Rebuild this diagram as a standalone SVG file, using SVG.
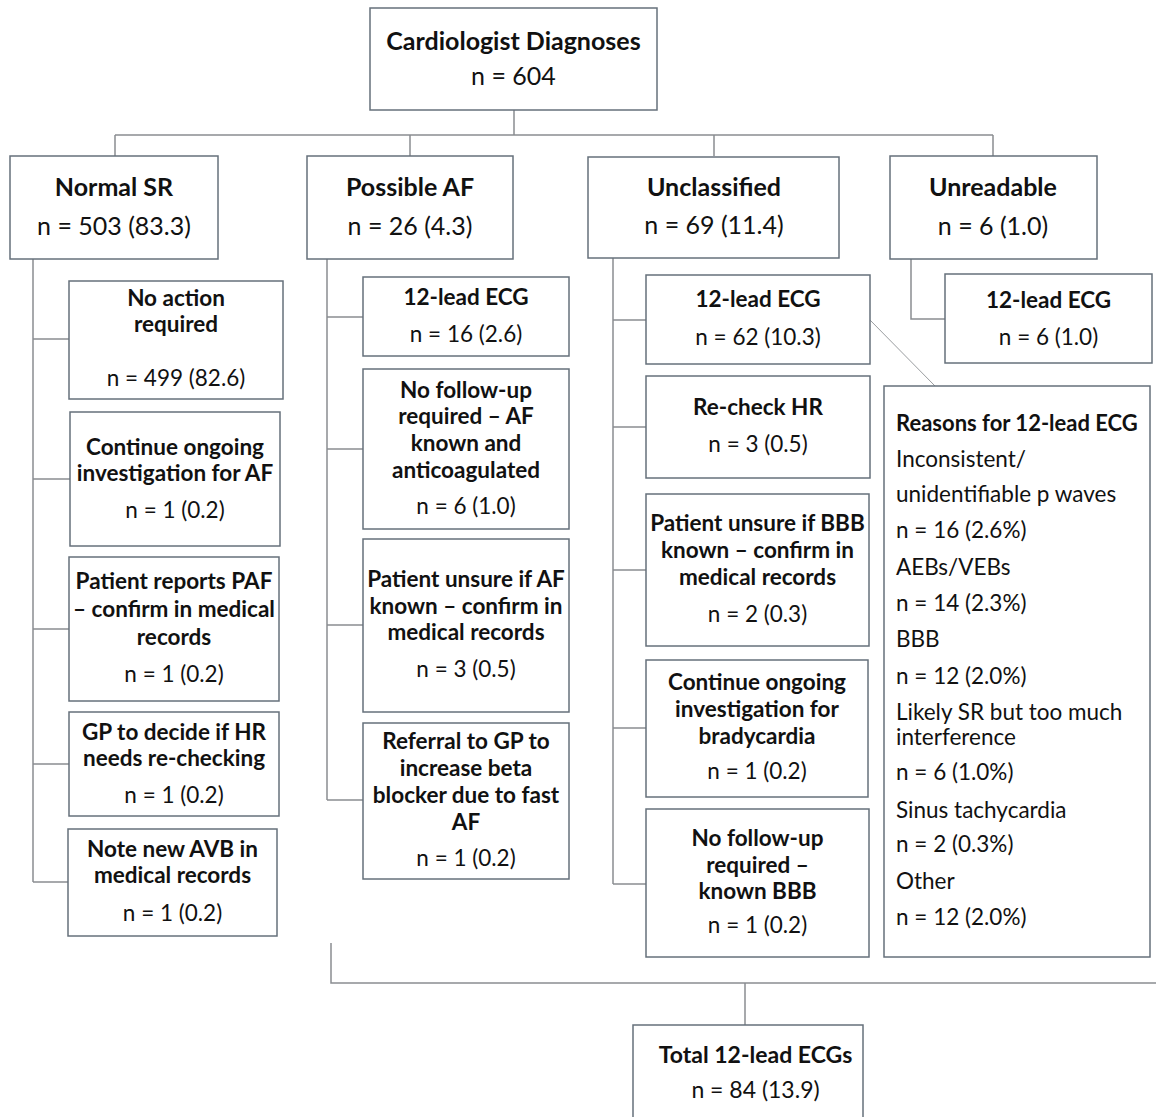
<svg xmlns="http://www.w3.org/2000/svg" width="1156" height="1117" viewBox="0 0 1156 1117">
<style>
.box{fill:#fff;stroke:#66707b;stroke-width:1.5}
.con{fill:none;stroke:#8a8d91;stroke-width:1.5}
.thin{fill:none;stroke:#9a9da0;stroke-width:1}
text{font-family:Lato,"Liberation Sans",sans-serif;fill:#111;text-anchor:middle}
.h{font-size:25px;font-weight:700}
.hn{font-size:25px}
.ht{font-size:23px;font-weight:700}
.htn{font-size:23px}
.c{font-size:22.5px;font-weight:700}
.cn{font-size:22.5px}
.r{font-size:22.5px;text-anchor:start}
.rb{font-size:22px;font-weight:700;text-anchor:start}
</style>
<rect width="1156" height="1117" fill="#fff"/>
<g id="connectors">
<path class="con" d="M514,110V135M115,135H993M115,135V156M410,135V156M714,135V156M993,135V156"/>
<path class="con" d="M33,259V882M33,339H69M33,479H70M33,629H69M33,764H69M33,882H68"/>
<path class="con" d="M327,259V800M327,317H363M327,449H363M327,625H363M327,800H363"/>
<path class="con" d="M613,258V884M613,320H646M613,427H646M613,570H646M613,728H646M613,884H646"/>
<path class="con" d="M911,259V319H945"/>
<path class="thin" d="M870,320L935,386"/>
<path class="con" d="M331,943V983H1156M745,983V1025"/>
</g>
<g id="n-cardiologist">
<rect class="box" x="370" y="8" width="287" height="102"/>
<text class="h" x="513.5" y="50">Cardiologist Diagnoses</text>
<text class="hn" x="513.5" y="85">n = 604</text>
</g>
<g id="n-normal-sr">
<rect class="box" x="10" y="156" width="208" height="103"/>
<text class="h" x="114" y="196">Normal SR</text>
<text class="hn" x="114" y="235">n = 503 (83.3)</text>
</g>
<g id="n-possible-af">
<rect class="box" x="307" y="156" width="206" height="103"/>
<text class="h" x="410" y="196">Possible AF</text>
<text class="hn" x="410" y="235">n = 26 (4.3)</text>
</g>
<g id="n-unclassified">
<rect class="box" x="588" y="157" width="251" height="101"/>
<text class="h" x="714" y="196">Unclassified</text>
<text class="hn" x="714" y="234">n = 69 (11.4)</text>
</g>
<g id="n-unreadable">
<rect class="box" x="890" y="156" width="207" height="103"/>
<text class="h" x="993" y="196">Unreadable</text>
<text class="hn" x="993" y="235">n = 6 (1.0)</text>
</g>
<g id="n-no-action">
<rect class="box" x="69" y="281" width="214" height="118"/>
<text class="c" x="176" y="306">No action</text>
<text class="c" x="176" y="332">required</text>
<text class="cn" x="176" y="386">n = 499 (82.6)</text>
</g>
<g id="n-continue-af">
<rect class="box" x="70" y="412" width="210" height="134"/>
<text class="c" x="175" y="455">Continue ongoing</text>
<text class="c" x="175" y="481">investigation for AF</text>
<text class="cn" x="175" y="518">n = 1 (0.2)</text>
</g>
<g id="n-paf">
<rect class="box" x="69" y="557" width="210" height="144"/>
<text class="c" x="174" y="589">Patient reports PAF</text>
<text class="c" x="174" y="617">– confirm in medical</text>
<text class="c" x="174" y="645">records</text>
<text class="cn" x="174" y="682">n = 1 (0.2)</text>
</g>
<g id="n-gp-hr">
<rect class="box" x="69" y="712" width="210" height="104"/>
<text class="c" x="174" y="740">GP to decide if HR</text>
<text class="c" x="174" y="766">needs re-checking</text>
<text class="cn" x="174" y="803">n = 1 (0.2)</text>
</g>
<g id="n-avb">
<rect class="box" x="68" y="829" width="209" height="107"/>
<text class="c" x="172.5" y="857">Note new AVB in</text>
<text class="c" x="172.5" y="883">medical records</text>
<text class="cn" x="172.5" y="921">n = 1 (0.2)</text>
</g>
<g id="n-af-ecg">
<rect class="box" x="363" y="277" width="206" height="79"/>
<text class="c" x="466" y="305">12-lead ECG</text>
<text class="cn" x="466" y="342">n = 16 (2.6)</text>
</g>
<g id="n-af-nofu">
<rect class="box" x="363" y="369" width="206" height="160"/>
<text class="c" x="466" y="398">No follow-up</text>
<text class="c" x="466" y="424">required – AF</text>
<text class="c" x="466" y="451">known and</text>
<text class="c" x="466" y="478">anticoagulated</text>
<text class="cn" x="466" y="514">n = 6 (1.0)</text>
</g>
<g id="n-af-unsure">
<rect class="box" x="363" y="539" width="206" height="173"/>
<text class="c" x="466" y="587">Patient unsure if AF</text>
<text class="c" x="466" y="614">known – confirm in</text>
<text class="c" x="466" y="640">medical records</text>
<text class="cn" x="466" y="677">n = 3 (0.5)</text>
</g>
<g id="n-af-referral">
<rect class="box" x="363" y="723" width="206" height="156"/>
<text class="c" x="466" y="749">Referral to GP to</text>
<text class="c" x="466" y="776">increase beta</text>
<text class="c" x="466" y="803">blocker due to fast</text>
<text class="c" x="466" y="830">AF</text>
<text class="cn" x="466" y="866">n = 1 (0.2)</text>
</g>
<g id="n-uc-ecg">
<rect class="box" x="646" y="275" width="224" height="89"/>
<text class="c" x="758" y="307">12-lead ECG</text>
<text class="cn" x="758" y="345">n = 62 (10.3)</text>
</g>
<g id="n-uc-hr">
<rect class="box" x="646" y="376" width="224" height="102"/>
<text class="c" x="758" y="415">Re-check HR</text>
<text class="cn" x="758" y="452">n = 3 (0.5)</text>
</g>
<g id="n-uc-bbb">
<rect class="box" x="646" y="494" width="223" height="152"/>
<text class="c" x="757.5" y="531">Patient unsure if BBB</text>
<text class="c" x="757.5" y="558">known – confirm in</text>
<text class="c" x="757.5" y="585">medical records</text>
<text class="cn" x="757.5" y="622">n = 2 (0.3)</text>
</g>
<g id="n-uc-brady">
<rect class="box" x="646" y="660" width="222" height="137"/>
<text class="c" x="757" y="690">Continue ongoing</text>
<text class="c" x="757" y="717">investigation for</text>
<text class="c" x="757" y="744">bradycardia</text>
<text class="cn" x="757" y="779">n = 1 (0.2)</text>
</g>
<g id="n-uc-nofu">
<rect class="box" x="646" y="809" width="223" height="148"/>
<text class="c" x="757.5" y="846">No follow-up</text>
<text class="c" x="757.5" y="873">required –</text>
<text class="c" x="757.5" y="899">known BBB</text>
<text class="cn" x="757.5" y="933">n = 1 (0.2)</text>
</g>
<g id="n-ur-ecg">
<rect class="box" x="945" y="274" width="207" height="89"/>
<text class="c" x="1048.5" y="308">12-lead ECG</text>
<text class="cn" x="1048.5" y="345">n = 6 (1.0)</text>
</g>
<g id="n-reasons">
<rect class="box" x="884" y="386" width="266" height="571"/>
<text class="rb" x="896" y="431">Reasons for 12-lead ECG</text>
<text class="r" x="896" y="467">Inconsistent/</text>
<text class="r" x="896" y="502">unidentifiable p waves</text>
<text class="r" x="896" y="538">n = 16 (2.6%)</text>
<text class="r" x="896" y="575">AEBs/VEBs</text>
<text class="r" x="896" y="611">n = 14 (2.3%)</text>
<text class="r" x="896" y="647">BBB</text>
<text class="r" x="896" y="684">n = 12 (2.0%)</text>
<text class="r" x="896" y="720">Likely SR but too much</text>
<text class="r" x="896" y="745">interference</text>
<text class="r" x="896" y="780">n = 6 (1.0%)</text>
<text class="r" x="896" y="818">Sinus tachycardia</text>
<text class="r" x="896" y="852">n = 2 (0.3%)</text>
<text class="r" x="896" y="889">Other</text>
<text class="r" x="896" y="925">n = 12 (2.0%)</text>
</g>
<g id="n-total">
<rect class="box" x="633" y="1025" width="230" height="100"/>
<text class="ht" x="755.5" y="1063">Total 12-lead ECGs</text>
<text class="htn" x="755.5" y="1098">n = 84 (13.9)</text>
</g>
</svg>
